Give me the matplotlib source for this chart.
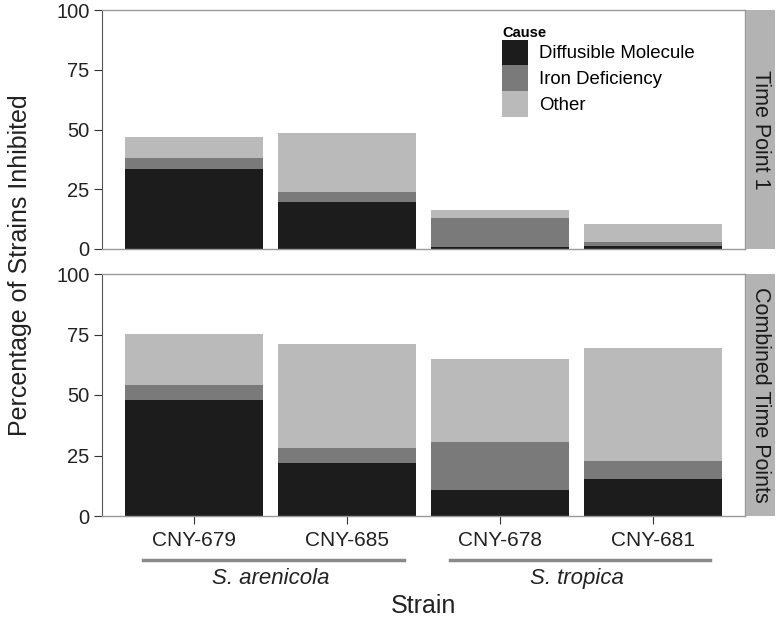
import numpy as np
import matplotlib.pyplot as plt
from matplotlib.patches import Patch

plt.rcParams['font.family'] = ['Liberation Sans', 'DejaVu Sans']

##################################################
# Data
##################################################
strains = ['CNY-679', 'CNY-685', 'CNY-678', 'CNY-681']
species = ['S. arenicola', 'S. tropica']
causes = ['Diffusible Molecule', 'Iron Deficiency', 'Other']
colors = ['#1c1c1c', '#7a7a7a', '#bababa']
panels = ['Time Point 1', 'Combined Time Points']

# stacked segment heights (percent)
tp1_diffusible = [33.5, 19.5, 1.0, 1.2]
tp1_iron = [4.7, 4.5, 12.0, 1.7]
tp1_other = [8.7, 24.6, 3.2, 7.5]

comb_diffusible = [48.0, 22.0, 10.9, 15.3]
comb_iron = [6.0, 6.2, 19.5, 7.3]
comb_other = [21.2, 43.0, 34.5, 46.9]

yticks = [0, 25, 50, 75, 100]

##################################################
# Plot
##################################################
fig = plt.figure(figsize=(7.77, 6.22), dpi=100)
left, right = 102 / 777, 745 / 777
ax1 = fig.add_axes([left, 1 - 249 / 622, right - left, 239 / 622])
ax2 = fig.add_axes([left, 1 - 516 / 622, right - left, 242 / 622])

x = np.arange(1, len(strains) + 1)
data = [[tp1_diffusible, tp1_iron, tp1_other],
        [comb_diffusible, comb_iron, comb_other]]

for ax, segs, name in zip([ax1, ax2], data, panels):
    bottom = np.zeros(len(strains))
    for vals, col in zip(segs, colors):
        ax.bar(x, vals, width=0.9, bottom=bottom, color=col, edgecolor='none')
        bottom += np.array(vals)
    ax.set_xlim(0.4, 4.6)
    ax.set_ylim(0, 100)
    ax.set_yticks(yticks)
    ax.tick_params(axis='y', labelsize=14.5, length=6, pad=3,
                   color='#333333', labelcolor='#222222')
    for s in ['top', 'right', 'bottom']:
        ax.spines[s].set_color('#999999')
        ax.spines[s].set_linewidth(1.0)
    ax.spines['left'].set_color('#555555')
    # facet strip on the right
    strip = ax.inset_axes([1.002, 0, 0.045, 1])
    strip.set_facecolor('#b3b3b3')
    strip.set_xticks([])
    strip.set_yticks([])
    for s in strip.spines.values():
        s.set_visible(False)
    strip.text(0.5, 0.5, name, rotation=-90, ha='center', va='center',
               fontsize=15.5, color='#1a1a1a', transform=strip.transAxes)

ax1.set_xticks([])
ax2.set_xticks(x)
ax2.set_xticklabels(strains)
ax2.tick_params(axis='x', labelsize=15, length=6, color='#333333',
                labelcolor='#222222', pad=5)

# species grouping under the strain labels
for i, sp in enumerate(species):
    x0, x1 = x[2 * i] - 0.33, x[2 * i + 1] + 0.37
    ax2.plot([x0, x1], [-18, -18], color='#8a8a8a', lw=2.5, clip_on=False)
    ax2.text((x[2 * i] + x[2 * i + 1]) / 2, -26, sp, style='italic',
             ha='center', va='center', fontsize=16, color='#222222')

fig.text(0.5 * (left + right), 1 - 606 / 622, 'Strain', ha='center',
         va='center', fontsize=18, color='#222222')
fig.text(20 / 777, 1 - 265 / 622, 'Percentage of Strains Inhibited',
         rotation=90, ha='center', va='center', fontsize=18, color='#222222')

handles = [Patch(facecolor=c, edgecolor='none') for c in colors]
leg = ax1.legend(handles, causes, title='Cause', loc='upper left',
                 bbox_to_anchor=(0.622, 0.935), frameon=False, fontsize=13.4,
                 handlelength=1.4, handleheight=1.75, handletextpad=0.6,
                 labelspacing=0.0, borderaxespad=0, borderpad=0,
                 alignment='left')
leg.get_title().set_fontweight('bold')
leg.get_title().set_fontsize(10.5)

fig.savefig('out.png', dpi=100)
